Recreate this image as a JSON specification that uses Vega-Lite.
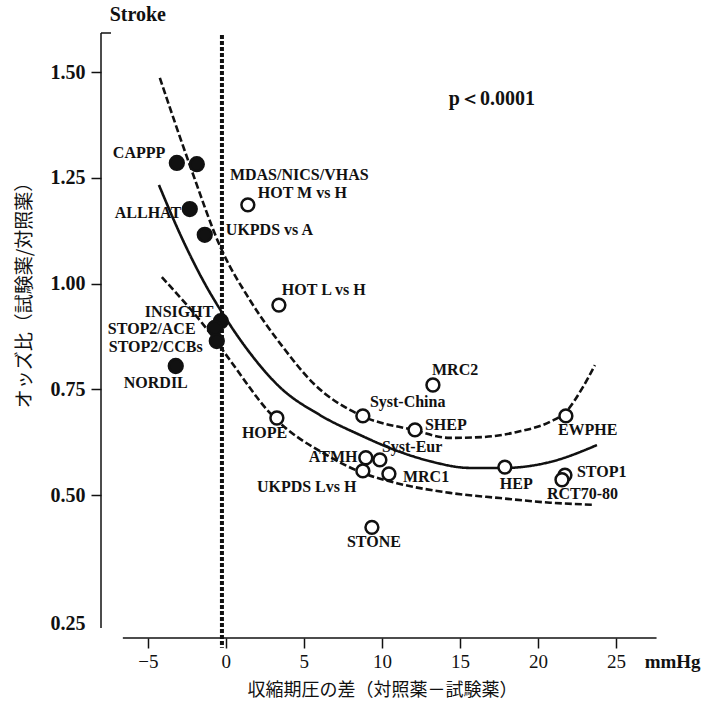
{
  "$schema": "https://vega.github.io/schema/vega-lite/v6.json",
  "width": 593,
  "height": 605,
  "autosize": "none",
  "padding": {"left": 101, "top": 33, "right": 12, "bottom": 70},
  "background": "white",
  "config": {"view": {"stroke": null}, "axis": {"domain": false, "grid": false}},
  "datasets": {
    "curves": [
      {"curve": "upper", "x": -4.23, "y": 1.486},
      {"curve": "upper", "x": -2.31, "y": 1.280},
      {"curve": "upper", "x": -0.26, "y": 1.079},
      {"curve": "upper", "x": 1.54, "y": 0.961},
      {"curve": "upper", "x": 3.65, "y": 0.850},
      {"curve": "upper", "x": 5.58, "y": 0.765},
      {"curve": "upper", "x": 8.59, "y": 0.689},
      {"curve": "upper", "x": 11.99, "y": 0.654},
      {"curve": "upper", "x": 14.36, "y": 0.635},
      {"curve": "upper", "x": 16.47, "y": 0.637},
      {"curve": "upper", "x": 18.65, "y": 0.649},
      {"curve": "upper", "x": 20.77, "y": 0.673},
      {"curve": "upper", "x": 21.73, "y": 0.694},
      {"curve": "upper", "x": 22.88, "y": 0.755},
      {"curve": "upper", "x": 23.65, "y": 0.807},
      {"curve": "fit", "x": -4.29, "y": 1.233},
      {"curve": "fit", "x": -2.76, "y": 1.103},
      {"curve": "fit", "x": -1.47, "y": 1.008},
      {"curve": "fit", "x": 0.06, "y": 0.914},
      {"curve": "fit", "x": 1.54, "y": 0.836},
      {"curve": "fit", "x": 3.46, "y": 0.755},
      {"curve": "fit", "x": 6.03, "y": 0.689},
      {"curve": "fit", "x": 8.59, "y": 0.642},
      {"curve": "fit", "x": 11.15, "y": 0.602},
      {"curve": "fit", "x": 13.08, "y": 0.580},
      {"curve": "fit", "x": 15.64, "y": 0.564},
      {"curve": "fit", "x": 17.88, "y": 0.564},
      {"curve": "fit", "x": 20.77, "y": 0.578},
      {"curve": "fit", "x": 23.78, "y": 0.618},
      {"curve": "lower", "x": -4.10, "y": 1.015},
      {"curve": "lower", "x": -0.83, "y": 0.874},
      {"curve": "lower", "x": 0.26, "y": 0.819},
      {"curve": "lower", "x": 2.82, "y": 0.694},
      {"curve": "lower", "x": 6.67, "y": 0.590},
      {"curve": "lower", "x": 8.78, "y": 0.552},
      {"curve": "lower", "x": 10.96, "y": 0.528},
      {"curve": "lower", "x": 14.36, "y": 0.505},
      {"curve": "lower", "x": 17.56, "y": 0.494},
      {"curve": "lower", "x": 20.77, "y": 0.485},
      {"curve": "lower", "x": 23.53, "y": 0.481}
    ],
    "trials": [
      {"trial": "CAPPP", "comparison": "new vs old", "x": -3.14, "y": 1.285},
      {"trial": "MDAS/NICS/VHAS", "comparison": "new vs old", "x": -1.86, "y": 1.282},
      {"trial": "ALLHAT", "comparison": "new vs old", "x": -2.31, "y": 1.176},
      {"trial": "UKPDS vs A", "comparison": "new vs old", "x": -1.35, "y": 1.115},
      {"trial": "INSIGHT", "comparison": "new vs old", "x": -0.32, "y": 0.911},
      {"trial": "STOP2/ACE", "comparison": "new vs old", "x": -0.71, "y": 0.895},
      {"trial": "STOP2/CCBs", "comparison": "new vs old", "x": -0.58, "y": 0.864},
      {"trial": "NORDIL", "comparison": "new vs old", "x": -3.21, "y": 0.805},
      {"trial": "HOT M vs H", "comparison": "other", "x": 1.41, "y": 1.186},
      {"trial": "HOT L vs H", "comparison": "other", "x": 3.40, "y": 0.949},
      {"trial": "HOPE", "comparison": "other", "x": 3.27, "y": 0.682},
      {"trial": "Syst-China", "comparison": "other", "x": 8.78, "y": 0.687},
      {"trial": "MRC2", "comparison": "other", "x": 13.27, "y": 0.760},
      {"trial": "SHEP", "comparison": "other", "x": 12.12, "y": 0.654},
      {"trial": "Syst-Eur", "comparison": "other", "x": 9.87, "y": 0.583},
      {"trial": "ATMH", "comparison": "other", "x": 8.97, "y": 0.588},
      {"trial": "UKPDS L vs H", "comparison": "other", "x": 8.78, "y": 0.557},
      {"trial": "MRC1", "comparison": "other", "x": 10.45, "y": 0.550},
      {"trial": "STONE", "comparison": "other", "x": 9.36, "y": 0.437},
      {"trial": "HEP", "comparison": "other", "x": 17.88, "y": 0.566},
      {"trial": "EWPHE", "comparison": "other", "x": 21.79, "y": 0.687},
      {"trial": "STOP1", "comparison": "other", "x": 21.73, "y": 0.547},
      {"trial": "RCT70-80", "comparison": "other", "x": 21.54, "y": 0.536}
    ],
    "labels": [
      {"label": "CAPPP", "x": -7.24, "y": 1.309},
      {"label": "MDAS/NICS/VHAS", "x": 0.26, "y": 1.257},
      {"label": "HOT M vs H", "x": 2.05, "y": 1.214},
      {"label": "ALLHAT", "x": -7.12, "y": 1.167},
      {"label": "UKPDS vs A", "x": 0.0, "y": 1.127},
      {"label": "HOT L vs H", "x": 3.59, "y": 0.985},
      {"label": "INSIGHT", "x": -5.19, "y": 0.933},
      {"label": "STOP2/ACE", "x": -7.56, "y": 0.892},
      {"label": "STOP2/CCBs", "x": -7.5, "y": 0.850},
      {"label": "NORDIL", "x": -6.54, "y": 0.765},
      {"label": "MRC2", "x": 13.21, "y": 0.796},
      {"label": "Syst-China", "x": 9.23, "y": 0.720},
      {"label": "SHEP", "x": 12.76, "y": 0.666},
      {"label": "HOPE", "x": 1.03, "y": 0.647},
      {"label": "Syst-Eur", "x": 10.0, "y": 0.614},
      {"label": "ATMH", "x": 5.32, "y": 0.590},
      {"label": "MRC1", "x": 11.35, "y": 0.543},
      {"label": "UKPDS Lvs H", "x": 1.99, "y": 0.519},
      {"label": "HEP", "x": 17.56, "y": 0.526},
      {"label": "EWPHE", "x": 21.28, "y": 0.654},
      {"label": "STOP1", "x": 22.5, "y": 0.554},
      {"label": "RCT70-80", "x": 20.58, "y": 0.502},
      {"label": "STONE", "x": 7.76, "y": 0.408}
    ],
    "notes": [
      {"text": "Stroke", "x": -5.64, "y": 1.6348},
      {"text": "p＜0.0001", "x": 17.05, "y": 1.4362}
    ]
  },
  "encoding": {
    "x": {
      "field": "x", "type": "quantitative",
      "scale": {"domain": [-8, 30], "nice": false, "zero": false},
      "axis": {
        "values": [-5, 0, 5, 10, 15, 20, 25, 28.6],
        "labelExpr": "datum.value > 27 ? 'mmHg' : datum.label",
        "tickSize": 10, "tickWidth": 1.5, "tickColor": "#111",
        "tickOpacity": {"condition": {"test": "datum.value > 27", "value": 0}, "value": 1},
        "labelFont": "Liberation Serif", "labelFontSize": 19,
        "labelFontWeight": {"condition": {"test": "datum.value > 27", "value": "bold"}, "value": "normal"},
        "labelColor": "#111", "labelPadding": 4, "labelFlush": false,
        "title": "収縮期圧の差（対照薬－試験薬）",
        "titleFont": "Noto Sans CJK JP", "titleFontSize": 18, "titleFontWeight": "normal",
        "titleColor": "#111", "titleX": 281, "titleY": 52, "titleBaseline": "middle", "titleAlign": "center"
      }
    },
    "y": {
      "field": "y", "type": "quantitative",
      "scale": {"domain": [0.2212, 0.5, 1.5922], "range": [605, 462, 0], "nice": false, "zero": false},
      "axis": {
        "values": [0.25, 0.5, 0.75, 1, 1.25, 1.5],
        "format": ".2f",
        "tickSize": 10, "tickWidth": 1.5, "tickColor": "#111",
        "tickOpacity": {"condition": {"test": "datum.value < 0.3", "value": 0}, "value": 1},
        "labelFont": "Liberation Serif", "labelFontSize": 20, "labelFontWeight": "bold",
        "labelColor": "#111", "labelPadding": 6, "labelFlush": false,
        "title": "オッズ比（試験薬/対照薬）",
        "titleFont": "Noto Sans CJK JP", "titleFontSize": 19, "titleFontWeight": "normal",
        "titleColor": "#111", "titleX": -77, "titleY": 257, "titleAngle": -90,
        "titleBaseline": "middle", "titleAlign": "center"
      }
    }
  },
  "layer": [
    {
      "data": {"name": "curves"},
      "mark": {"type": "line", "color": "#111", "strokeWidth": 2.6, "interpolate": "monotone"},
      "encoding": {
        "strokeDash": {"field": "curve", "type": "nominal",
          "scale": {"domain": ["upper", "fit", "lower"], "range": [[7, 3], [1, 0], [7, 3]]},
          "legend": null}
      }
    },
    {
      "data": {"values": [{"x": -0.25, "y": 1.5875, "y2": 0.202}]},
      "mark": {"type": "rule", "color": "#111", "strokeWidth": 4, "strokeDash": [4, 2]},
      "encoding": {"y2": {"field": "y2"}}
    },
    {
      "data": {"values": [{"x": -8, "y": 0.2407, "y2": 1.5922}]},
      "mark": {"type": "rule", "color": "#111", "strokeWidth": 1.5},
      "encoding": {"y2": {"field": "y2"}}
    },
    {
      "data": {"values": [{"x": -8, "x2": -7.36, "y": 1.5922}]},
      "mark": {"type": "rule", "color": "#111", "strokeWidth": 1.5},
      "encoding": {"x2": {"field": "x2"}}
    },
    {
      "data": {"values": [{"x": -6.6, "x2": 27.6, "y": 0.2212}]},
      "mark": {"type": "rule", "color": "#111", "strokeWidth": 1.5},
      "encoding": {"x2": {"field": "x2"}}
    },
    {
      "data": {"name": "trials"},
      "mark": {"type": "point", "filled": true, "strokeWidth": 2.5, "opacity": 1},
      "encoding": {
        "fill": {"field": "comparison", "type": "nominal",
          "scale": {"domain": ["new vs old", "other"], "range": ["#111", "white"]}, "legend": null},
        "stroke": {"value": "#111"},
        "size": {"field": "comparison", "type": "nominal",
          "scale": {"domain": ["new vs old", "other"], "range": [190, 165]}, "legend": null}
      }
    },
    {
      "data": {"name": "labels"},
      "mark": {"type": "text", "align": "left", "baseline": "middle", "font": "Liberation Serif",
        "fontSize": 16, "fontWeight": "bold", "color": "#111"},
      "encoding": {"text": {"field": "label"}}
    },
    {
      "data": {"name": "notes"},
      "mark": {"type": "text", "align": "center", "baseline": "middle",
        "font": "Liberation Serif", "fontSize": 20, "fontWeight": "bold", "color": "#111"},
      "encoding": {"text": {"field": "text"}}
    }
  ]
}
